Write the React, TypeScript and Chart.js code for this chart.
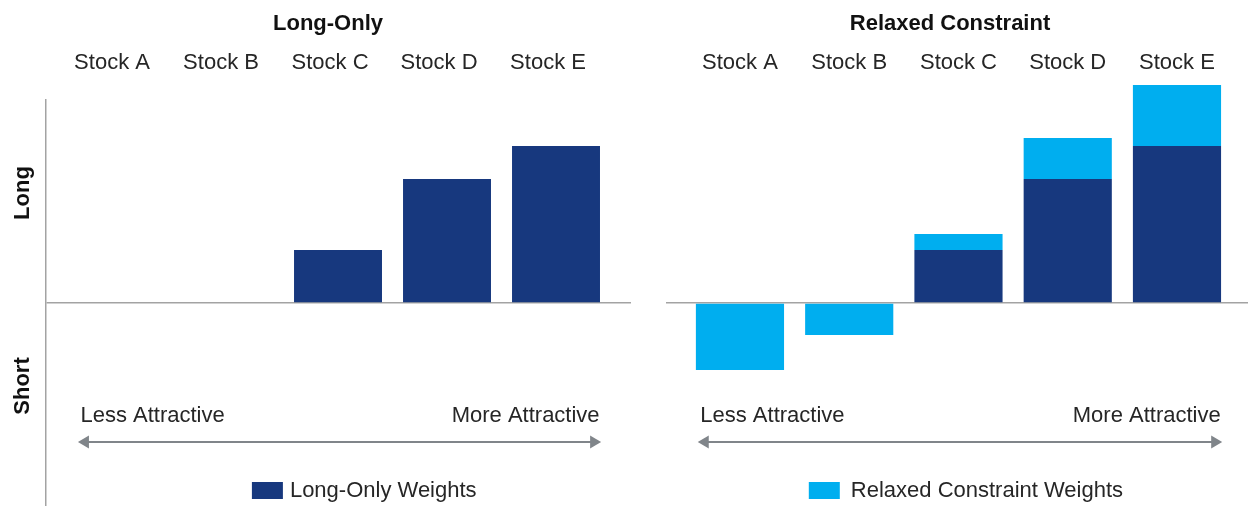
import React, { useEffect, useRef } from "react";
import { Chart, registerables } from "chart.js";

Chart.register(...registerables);

// ---- Data ----
const categories = ["Stock A", "Stock B", "Stock C", "Stock D", "Stock E"];
const longOnlyWeights = [0, 0, 10.6, 24.8, 31.4];
const relaxedExtraWeights = [-13.4, -6.4, 3.2, 8.2, 12.2];
const panelTitles = ["Long-Only", "Relaxed Constraint"];
const legendLabels = ["Long-Only Weights", "Relaxed Constraint Weights"];
const sideLabels = ["Long", "Short"];
const arrowLabels = ["Less Attractive", "More Attractive"];

const DARK = "#17387E";
const LIGHT = "#00AEEF";
const TEXT = "#262626";
const AXIS = "#a3a3a3";
const ARROW = "#80858a";
const FONT = "'Liberation Sans', Arial, sans-serif";

const Y_MIN = -40.6;
const Y_MAX = 40.6;

type PanelCfg = {
  xMin: number;
  xMax: number;
  labelOffset: number;
  legendAt: number;
  legendTextGap: number;
  legendLabel: string;
  legendColor: string;
  showSide: boolean;
  title: string;
  titleX: number;
};

function overlayPlugin(cfg: PanelCfg) {
  return {
    id: "overlay",
    afterDraw(chart: any) {
      const { ctx, chartArea } = chart;
      const xs = chart.scales.x;
      const ys = chart.scales.y;
      ctx.save();
      // title
      ctx.fillStyle = "#111";
      ctx.font = `bold 22px ${FONT}`;
      ctx.textAlign = "center";
      ctx.textBaseline = "alphabetic";
      ctx.fillText(cfg.title, cfg.titleX, 29.5);

      // arrow
      const ay = ys.getPixelForValue(-27.8);
      const x0 = xs.getPixelForValue(-0.4) + 1.5;
      const x1 = xs.getPixelForValue(4.4) + 1.5;
      ctx.strokeStyle = ARROW;
      ctx.fillStyle = ARROW;
      ctx.lineWidth = 2;
      ctx.beginPath();
      ctx.moveTo(x0 + 8, ay);
      ctx.lineTo(x1 - 8, ay);
      ctx.stroke();
      ctx.beginPath();
      ctx.moveTo(x0, ay);
      ctx.lineTo(x0 + 11, ay - 6.5);
      ctx.lineTo(x0 + 11, ay + 6.5);
      ctx.closePath();
      ctx.fill();
      ctx.beginPath();
      ctx.moveTo(x1, ay);
      ctx.lineTo(x1 - 11, ay - 6.5);
      ctx.lineTo(x1 - 11, ay + 6.5);
      ctx.closePath();
      ctx.fill();

      // attractiveness labels
      ctx.fillStyle = TEXT;
      ctx.font = `22px ${FONT}`;
      ctx.textBaseline = "alphabetic";
      const ly = ys.getPixelForValue(-23.8);
      ctx.textAlign = "left";
      ctx.fillText(arrowLabels[0], xs.getPixelForValue(-0.4) + 4, ly);
      ctx.textAlign = "right";
      ctx.fillText(arrowLabels[1], xs.getPixelForValue(4.4), ly);

      // legend
      const lx = xs.getPixelForValue(cfg.legendAt);
      const lTop = ys.getPixelForValue(-35.8);
      ctx.fillStyle = cfg.legendColor;
      ctx.fillRect(lx, lTop, 31, 17);
      ctx.fillStyle = TEXT;
      ctx.textAlign = "left";
      ctx.fillText(cfg.legendLabel, lx + cfg.legendTextGap, lTop + 14.5);

      // side labels
      if (cfg.showSide) {
        ctx.font = `bold 22px ${FONT}`;
        ctx.fillStyle = "#111";
        ctx.textAlign = "center";
        ctx.textBaseline = "middle";
        const sx = chartArea.left - 23;
        const pos = [22, -16.6];
        sideLabels.forEach((t, i) => {
          ctx.save();
          ctx.translate(sx, ys.getPixelForValue(pos[i]));
          ctx.rotate(-Math.PI / 2);
          ctx.fillText(t, 0, 0);
          ctx.restore();
        });
      }
      ctx.restore();
    },
  };
}

function buildConfig(panel: number, cfg: PanelCfg, padding: any) {
  const datasets: any[] = [
    {
      label: legendLabels[0],
      data: categories.map((_, i) => ({ x: i, y: longOnlyWeights[i] })),
      backgroundColor: DARK,
      borderWidth: 0,
      categoryPercentage: 1,
      barPercentage: 0.807,
      stack: "s",
      clip: false,
    },
  ];
  if (panel === 1) {
    datasets.push({
      label: legendLabels[1],
      data: categories.map((_, i) => ({ x: i, y: relaxedExtraWeights[i] })),
      backgroundColor: LIGHT,
      borderWidth: 0,
      categoryPercentage: 1,
      barPercentage: 0.807,
      stack: "s",
      clip: false,
    });
  }
  return {
    type: "bar",
    data: { datasets },
    options: {
      responsive: false,
      animation: false,
      layout: { padding },
      plugins: {
        legend: { display: false },
        tooltip: { enabled: false },
        title: { display: false },
      },
      scales: {
        x: {
          type: "linear",
          position: "top",
          stacked: true,
          offset: false,
          min: cfg.xMin,
          max: cfg.xMax,
          afterBuildTicks: (scale: any) => {
            scale.ticks = categories.map((_, i) => ({ value: i }));
          },
          grid: { display: false, drawTicks: false },
          border: { display: false },
          ticks: {
            callback: (v: any) => categories[Math.round(v)] ?? "",
            color: TEXT,
            font: { family: FONT, size: 22 },
            padding: 24.3,
            labelOffset: cfg.labelOffset,
            maxRotation: 0,
            autoSkip: false,
          },
        },
        y: {
          stacked: true,
          min: Y_MIN,
          max: Y_MAX,
          ticks: { display: false, stepSize: 10 },
          grid: {
            drawTicks: false,
            lineWidth: 1.5,
            color: (c: any) => (c.tick && c.tick.value === 0 ? AXIS : "rgba(0,0,0,0)"),
          },
          border: { display: cfg.showSide, color: AXIS, width: 1.5 },
        },
      },
    },
    plugins: [overlayPlugin(cfg)],
  } as any;
}

function Panel(props: { panel: number; width: number; cfg: PanelCfg; padding: any }) {
  const ref = useRef<HTMLCanvasElement | null>(null);
  useEffect(() => {
    if (!ref.current) return;
    const chart = new Chart(ref.current, buildConfig(props.panel, props.cfg, props.padding));
    return () => chart.destroy();
  }, []);
  return (
    <canvas
      ref={ref}
      width={props.width}
      height={506}
      style={{ display: "block", width: props.width, height: 506 }}
    />
  );
}

export default function App() {
  return (
    <div
      style={{
        position: "absolute",
        left: 0,
        top: 0,
        width: 1248,
        height: 506,
        display: "flex",
        background: "#fff",
      }}
    >
      <Panel
        panel={0}
        width={656}
        padding={{ left: 46, right: 25, top: 25, bottom: 0 }}
        cfg={{
          xMin: -0.679,
          xMax: 4.688,
          labelOffset: -8,
          legendAt: 1.21,
          legendTextGap: 38,
          legendLabel: legendLabels[0],
          legendColor: DARK,
          showSide: true,
          title: panelTitles[0],
          titleX: 328,
        }}
      />
      <Panel
        panel={1}
        width={592}
        padding={{ left: 10, right: 0, top: 25, bottom: 0 }}
        cfg={{
          xMin: -0.677,
          xMax: 4.65,
          labelOffset: 0,
          legendAt: 0.63,
          legendTextGap: 42,
          legendLabel: legendLabels[1],
          legendColor: LIGHT,
          showSide: false,
          title: panelTitles[1],
          titleX: 294,
        }}
      />
    </div>
  );
}
